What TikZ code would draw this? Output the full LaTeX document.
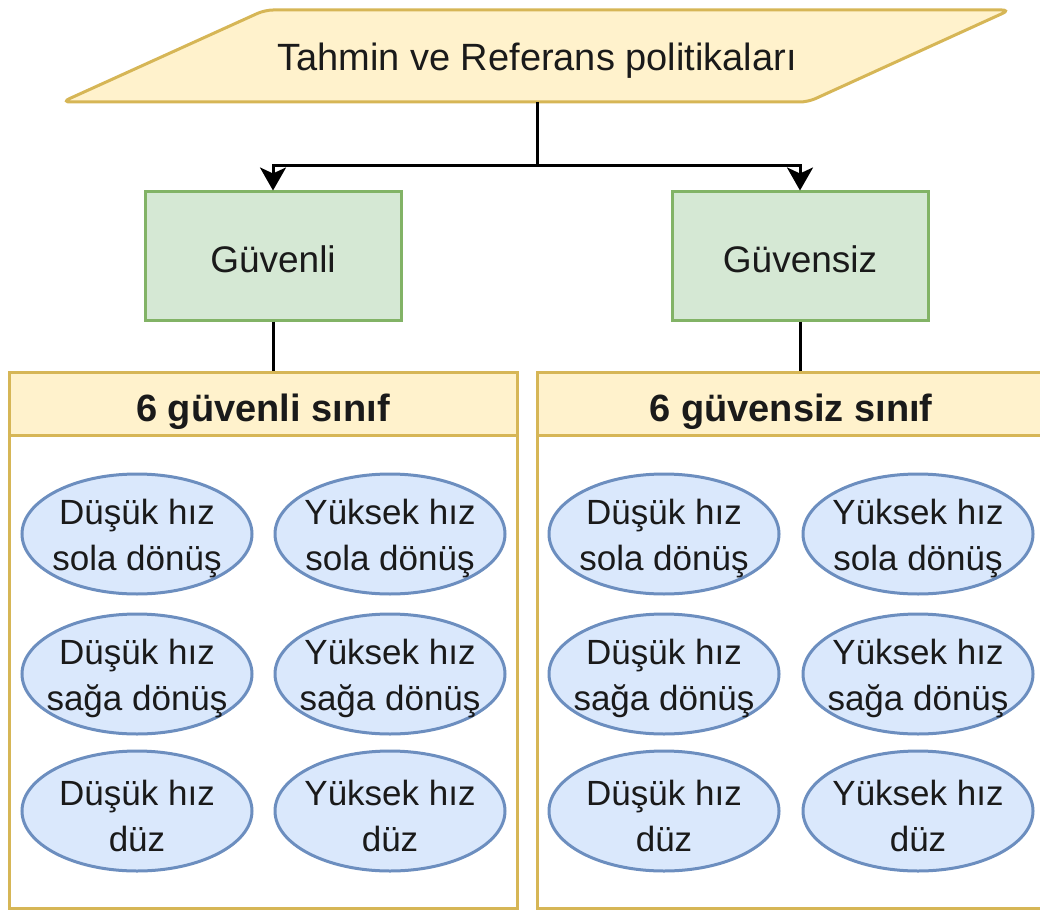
\documentclass[tikz,border=0pt]{standalone}
\usepackage{fontspec}
\setmainfont{Liberation Sans}
\usetikzlibrary{arrows.meta,shapes.geometric}

\definecolor{ylwfill}{HTML}{FFF2CC}
\definecolor{ylwline}{HTML}{D6B656}
\definecolor{grnfill}{HTML}{D5E8D4}
\definecolor{grnline}{HTML}{82B366}
\definecolor{blufill}{HTML}{DAE8FC}
\definecolor{bluline}{HTML}{6C8EBF}
\definecolor{ink}{HTML}{1A1A1A}

% two-line class label, with a little headroom so the text sits low in the ellipse
\newcommand{\clstext}[2]{\rule{0pt}{35pt}#1\\#2}

\begin{document}
\begin{tikzpicture}[x=1pt,y=-1pt,
  txt/.style={text=ink, font=\fontsize{38}{44}\selectfont},
  greenbox/.style={text=ink, font=\fontsize{37}{44}\selectfont,
    draw=grnline, fill=grnfill, line width=3pt,
    minimum width=256pt, minimum height=128pt, inner sep=0pt,
    text height=32pt, text depth=0pt},
  hdrbox/.style={draw=ylwline, fill=ylwfill, line width=3pt, text=ink,
    minimum width=508pt, minimum height=63pt, inner sep=0pt,
    text height=35pt, text depth=0pt,
    font=\fontsize{38}{44}\selectfont\bfseries},
  bodybox/.style={draw=ylwline, fill=white, line width=3pt,
    minimum width=508pt, minimum height=473pt, inner sep=0pt},
  cls/.style={ellipse, draw=bluline, fill=blufill, line width=3pt, text=ink,
    minimum width=230pt, minimum height=120pt, inner xsep=-15pt, inner ysep=-14pt,
    align=center, font=\fontsize{35}{46}\selectfont},
  conn/.style={draw=black, line width=3pt},
  tip/.style={-{Stealth[length=23pt, width=26pt, inset=6pt]}}
]
\useasboundingbox (0,0) rectangle (1040,909);

% input / output parallelogram
\draw[draw=ylwline, fill=ylwfill, line width=3pt, rounded corners=8pt]
  (265,10) -- (1010,10) -- (808,102) -- (62,102) -- cycle;
\node[txt, minimum width=600pt, minimum height=92pt, inner sep=0pt,
  text height=29pt, text depth=0pt] (src) at (537,56)
  {Tahmin ve Referans politikaları};

% the two policy groups
\node[greenbox] (g1) at (273,256) {Güvenli};
\node[greenbox] (g2) at (800,256) {Güvensiz};

% branching connectors
\coordinate (split) at (537,166);
\draw[conn] (src.south) -- (split);
\draw[conn, tip] (split) -| (g1.north);
\draw[conn, tip] (split) -| (g2.north);

% class containers
\node[bodybox] (body1) at (263,671.5) {};
\node[hdrbox] (hdr1) at (263,403.5) {6 güvenli sınıf};
\node[bodybox] (body2) at (791,671.5) {};
\node[hdrbox] (hdr2) at (791,403.5) {6 güvensiz sınıf};

\draw[conn] (g1.south) -- (g1.south |- hdr1.north);
\draw[conn] (g2.south) -- (g2.south |- hdr2.north);

% safe classes
\node[cls] (s1) at (137,534) {\clstext{Düşük hız}{sola dönüş}};
\node[cls] (s2) at (390,534) {\clstext{Yüksek hız}{sola dönüş}};
\node[cls] (s3) at (137,674) {\clstext{Düşük hız}{sağa dönüş}};
\node[cls] (s4) at (390,674) {\clstext{Yüksek hız}{sağa dönüş}};
\node[cls] (s5) at (137,811) {\clstext{Düşük hız}{düz}};
\node[cls] (s6) at (390,811) {\clstext{Yüksek hız}{düz}};

% unsafe classes
\node[cls] (u1) at (664,534) {\clstext{Düşük hız}{sola dönüş}};
\node[cls] (u2) at (918,534) {\clstext{Yüksek hız}{sola dönüş}};
\node[cls] (u3) at (664,674) {\clstext{Düşük hız}{sağa dönüş}};
\node[cls] (u4) at (918,674) {\clstext{Yüksek hız}{sağa dönüş}};
\node[cls] (u5) at (664,811) {\clstext{Düşük hız}{düz}};
\node[cls] (u6) at (918,811) {\clstext{Yüksek hız}{düz}};
\end{tikzpicture}
\end{document}
